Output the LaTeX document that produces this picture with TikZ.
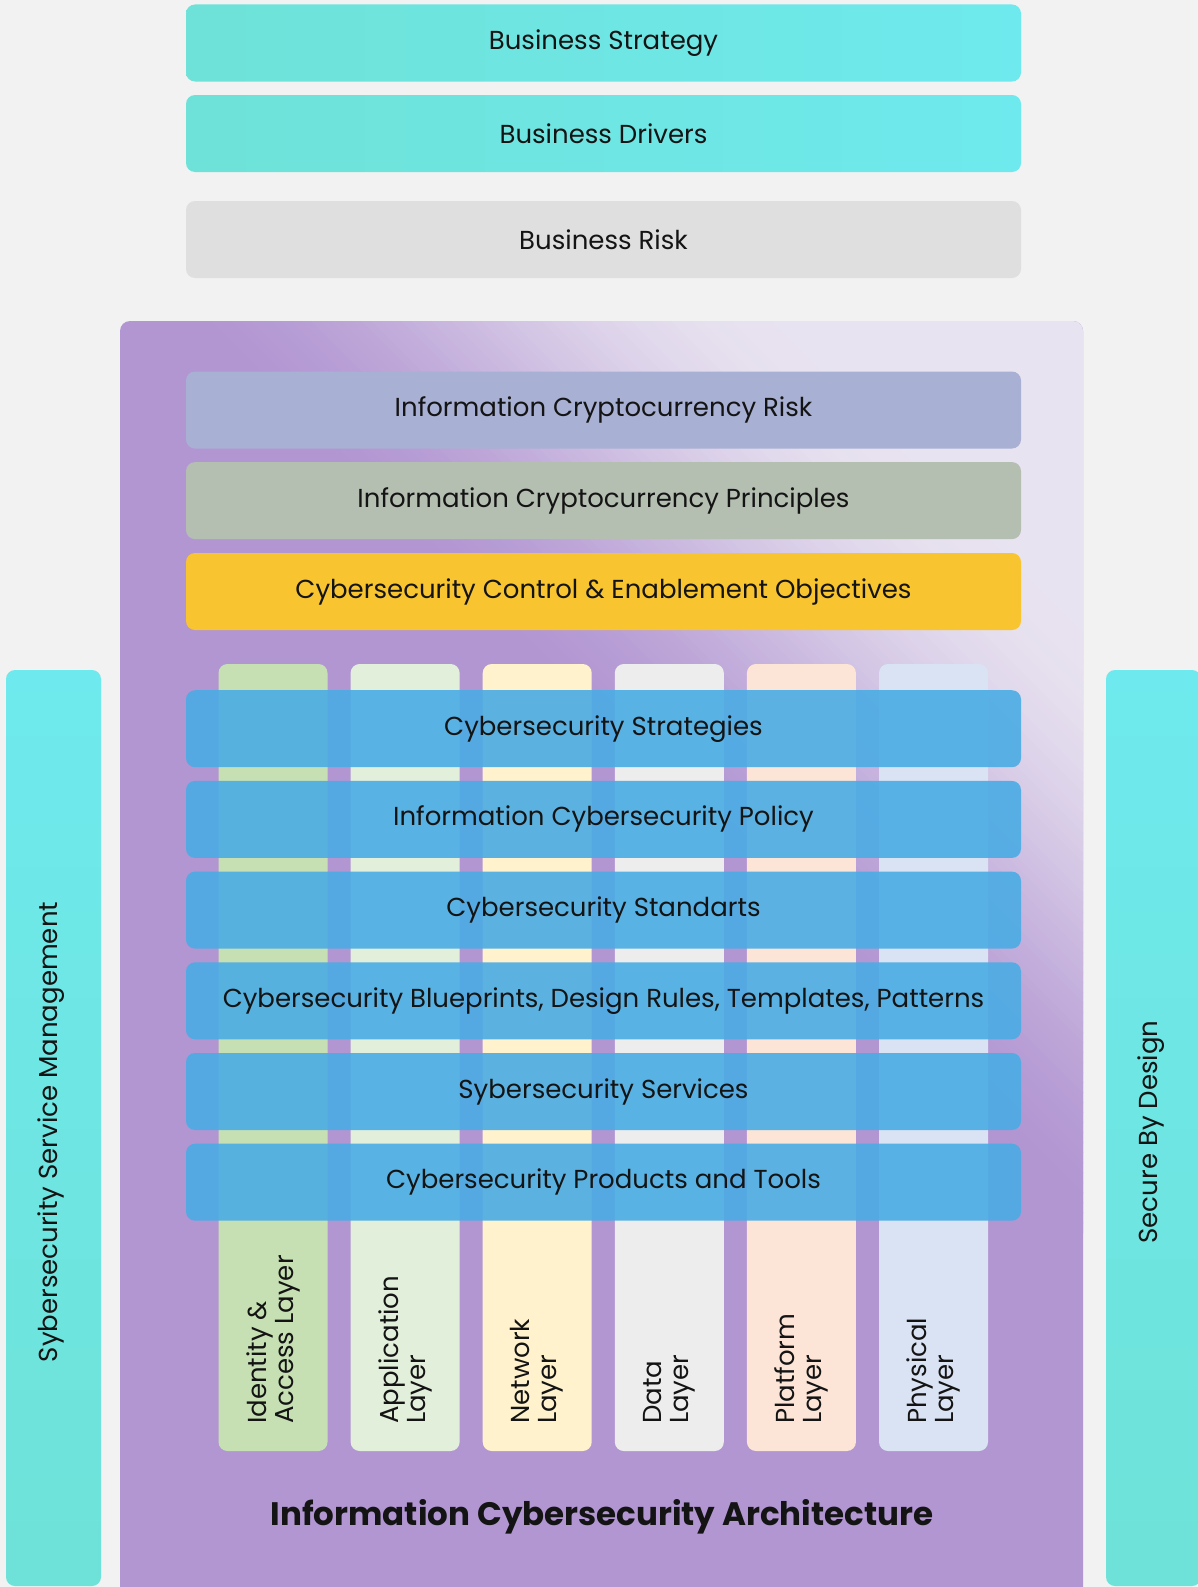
\documentclass[tikz,border=0pt]{standalone}
\usepackage{fontspec}
\setmainfont{Poppins}
\definecolor{bg}{HTML}{F2F2F2}
\definecolor{tealA}{RGB}{110,226,216}
\definecolor{tealB}{RGB}{110,233,237}
\definecolor{riskgray}{HTML}{DFDFDF}
\definecolor{purp}{RGB}{178,150,210}
\definecolor{lite}{RGB}{232,227,240}
\definecolor{icrc}{RGB}{168,176,212}
\definecolor{icpc}{RGB}{180,190,177}
\definecolor{ccoc}{RGB}{248,196,48}
\definecolor{bandc}{RGB}{74,172,228}
\definecolor{colA}{RGB}{198,224,180}
\definecolor{colB}{RGB}{226,239,218}
\definecolor{colC}{RGB}{255,242,204}
\definecolor{colD}{RGB}{237,237,237}
\definecolor{colE}{RGB}{252,228,214}
\definecolor{colF}{RGB}{218,227,243}
\definecolor{ink}{RGB}{20,20,20}
\begin{document}
\begin{tikzpicture}[x=1pt,y=-1pt,
  lbl/.style={text=ink,font=\fontsize{26}{27}\selectfont},
  box/.style={rounded corners=9pt,minimum width=835pt,minimum height=77pt,inner sep=0pt,lbl},
  tealbox/.style={box,left color=tealA,right color=tealB},
  band/.style={box,fill=bandc,fill opacity=0.9,text opacity=1},
  colbox/.style={rounded corners=9pt,minimum width=109pt,minimum height=787pt,inner sep=0pt},
  collbl/.style={lbl,rotate=90,anchor=west,align=left,inner sep=0pt},
  side/.style={rounded corners=9pt,minimum width=95pt,minimum height=916pt,inner sep=0pt,top color=tealB,bottom color=tealA},
  sidelbl/.style={lbl,rotate=90,inner sep=0pt}]
\useasboundingbox (0,0) rectangle (1198,1587);
\fill[bg] (0,0) rectangle (1198,1587);
\clip (0,0) rectangle (1198,1587);
% top business boxes
\node[tealbox] (bs) at (603.5,43) {Business Strategy};
\node[tealbox] (bd) at (603.5,133.5) {Business Drivers};
\node[box,fill=riskgray] (br) at (603.5,239.5) {Business Risk};
% architecture frame with diagonal gradient
\begin{scope}
\clip[rounded corners=10pt] (120,321) rectangle (1083,1600);
\fill[purp] (100,300) rectangle (1100,1600);
\foreach \i in {0,...,59}{
  \pgfmathsetmacro{\va}{-150+10*\i}
  \pgfmathsetmacro{\vb}{\va+11}
  \pgfmathsetmacro{\t}{(\i+0.5)/60}
  \pgfmathtruncatemacro{\p}{100*(3*\t*\t-2*\t*\t*\t)}
  \fill[lite!\p!purp] (0,{-\va}) -- (1300,{1300-\va}) -- (1300,{1300-\vb}) -- (0,{-\vb}) -- cycle;
}
\fill[lite] (0,-450) -- (1300,850) -- (1300,-2000) -- (0,-2000) -- cycle;
\end{scope}
\node[minimum width=963pt,minimum height=1266pt,inner sep=0pt] (arch) at (601.5,954) {};
% top rows
\node[box,fill=icrc] (icr) at (603.5,410) {Information Cryptocurrency Risk};
\node[box,fill=icpc] (icp) at (603.5,500.6) {Information Cryptocurrency Principles};
\node[box,fill=ccoc] (cco) at (603.5,591.5) {Cybersecurity Control \& Enablement Objectives};
% columns
\node[colbox,fill=colA] (c1) at (273,1057.5) {};
\node[colbox,fill=colB] (c2) at (405.1,1057.5) {};
\node[colbox,fill=colC] (c3) at (537.2,1057.5) {};
\node[colbox,fill=colD] (c4) at (669.3,1057.5) {};
\node[colbox,fill=colE] (c5) at (801.4,1057.5) {};
\node[colbox,fill=colF] (c6) at (933.5,1057.5) {};
\node[collbl] (l1) at (273,1424) {Identity \&\\Access Layer};
\node[collbl] (l2) at (405.1,1424) {Application\\Layer};
\node[collbl] (l3) at (537.2,1424) {Network\\Layer};
\node[collbl] (l4) at (669.3,1424) {Data\\Layer};
\node[collbl] (l5) at (801.4,1424) {Platform\\Layer};
\node[collbl] (l6) at (933.5,1424) {Physical\\Layer};
% blue bands
\node[band] (strat) at (603.5,728.7) {Cybersecurity Strategies};
\node[band] (policy) at (603.5,819.4) {Information Cybersecurity Policy};
\node[band] (stds) at (603.5,910.1) {Cybersecurity Standarts};
\node[band] (blue) at (603.5,1000.8) {Cybersecurity Blueprints, Design Rules, Templates, Patterns};
\node[band] (serv) at (603.5,1091.5) {Sybersecurity Services};
\node[band] (prod) at (603.5,1182.2) {Cybersecurity Products and Tools};
% title
\node[text=ink,font=\fontsize{32.5}{38}\selectfont\bfseries] (title) at (602,1517) {Information Cybersecurity Architecture};
% side bars
\node[side] (ssm) at (53.5,1128) {};
\node[side] (sbd) at (1153.5,1128) {};
\node[sidelbl] (ssml) at (51,1132) {Sybersecurity Service Management};
\node[sidelbl] (sbdl) at (1151,1132) {Secure By Design};
\end{tikzpicture}
\end{document}
